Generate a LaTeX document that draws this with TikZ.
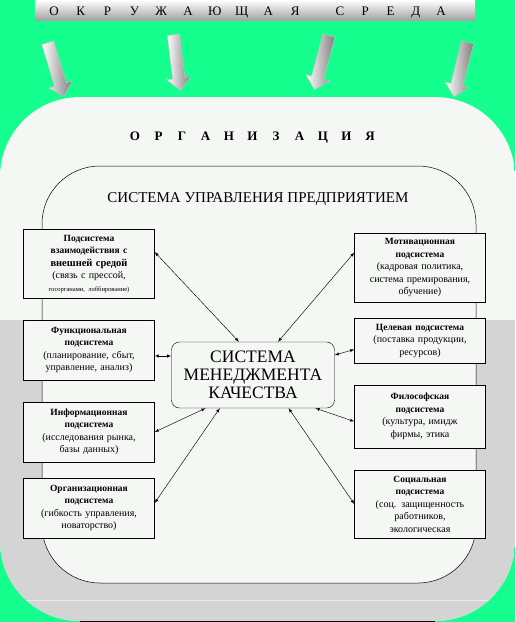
\documentclass[tikz,border=0pt]{standalone}
\usepackage{fontspec}
\setmainfont{Liberation Serif}
\usetikzlibrary{shapes,
                arrows,
                positioning}
\definecolor{envgreen}{RGB}{20,255,142}
\definecolor{paper}{RGB}{245,247,245}
\definecolor{orggray}{RGB}{212,212,212}
\tikzset{block/.style=
   {rectangle,
    draw,
    fill=paper,
    text centered,
    align=center,
    inner sep=2pt,
    text width=127pt,
    font=\fontsize{10}{12.5}\selectfont}}
\tikzset{link/.style = {draw, latex-latex, line width=0.45pt}}
\tikzset{letter/.style = {anchor=base, inner sep=0pt}}
\tikzset{envarrow/.style=
   {single arrow,
    draw=gray!45,
    left color=white,
    right color=gray!100,
    minimum height=56pt,
    inner sep=6pt,
    single arrow head extend=6pt}}
\newcommand{\hdr}[1]{{\bfseries\fontsize{9.5}{12.5}\selectfont #1}}

\begin{document}
\begin{tikzpicture}[x=1pt,y=-1pt]
    \useasboundingbox (0,0) rectangle (515,622);
    \fill[envgreen] (0,0) rectangle (515,622);

    % Organisation
    \begin{scope}
        \clip[rounded corners=80pt] (0,97) rectangle (515,621);
        \fill[paper] (0,97) rectangle (515,621);
        \fill[orggray] (0,320) rectangle (515,621);
        \draw[white!85!gray, line width=0.6pt] (0,600) -- (515,600);
    \end{scope}
    \draw (80,621) -- (435,621);

    % Environment
    \node[rectangle, minimum width=440pt, minimum height=20pt, inner sep=0pt,
          top color=white, bottom color=gray!72] (env) at (255,10) {};
    \foreach \ch [count=\i] in {О,К,Р,У,Ж,А,Ю,Щ,А,Я}
        \node[letter, font=\fontsize{13}{13}\selectfont] (envA\i) at ({54+(\i-1)*26.8},15.5) {\ch};
    \foreach \ch [count=\i] in {С,Р,Е,Д,А}
        \node[letter, font=\fontsize{13}{13}\selectfont] (envB\i) at ({340+(\i-1)*25.25},15.5) {\ch};

    \node[envarrow, rotate=-73] (arr1) at (55,66.5) {};
    \node[envarrow, rotate=-83] (arr2) at (176.5,59.5) {};
    \node[envarrow, rotate=-105] (arr3) at (322.5,59.5) {};
    \node[envarrow, rotate=-104] (arr4) at (461.5,66.5) {};

    \foreach \ch [count=\i] in {О,Р,Г,А,Н,И,З,А,Ц,И,Я}
        \node[letter, font=\bfseries\fontsize{13}{13}\selectfont] (org\i) at ({135+(\i-1)*23.5},140) {\ch};

    % Enterprise
    \draw[fill=paper, rounded corners=58pt, line width=0.5pt] (42,166) rectangle (476,583);
    \node[font=\fontsize{15}{16}\selectfont] (title) at (258,199)
        {СИСТЕМА УПРАВЛЕНИЯ ПРЕДПРИЯТИЕМ};

    % Blocks
    \node [block, rounded corners=8pt, text width=159pt, minimum height=66pt,
           font=\fontsize{17.5}{18}\selectfont] (qms) at (253,375)
        {СИСТЕМА\\ МЕНЕДЖМЕНТА\\ КАЧЕСТВА};

    \node [block, minimum height=69pt] (l1) at (89,264)
        {\hdr{Подсистема}\\ \hdr{взаимодействия с}\\
         {\bfseries\fontsize{10.5}{12}\selectfont внешней средой}\\ (связь с прессой,\\
         {\fontsize{6.5}{8}\selectfont госорганами, лоббирование)}};
    \node [block, minimum height=60pt] (l2) at (89,350)
        {\hdr{Функциональная}\\ \hdr{подсистема}\\ (планирование, сбыт,\\ управление, анализ)};
    \node [block, minimum height=60pt] (l3) at (89,432)
        {\hdr{Информационная}\\ \hdr{подсистема}\\ (исследования рынка,\\ базы данных)};
    \node [block, minimum height=60pt] (l4) at (89,508)
        {\hdr{Организационная}\\ \hdr{подсистема}\\ (гибкость управления,\\ новаторство)};

    \node [block, minimum height=69pt] (r1) at (420,267.5)
        {\hdr{Мотивационная}\\ \hdr{подсистема}\\ (кадровая политика,\\ система премирования,\\ обучение)};
    \node [block, minimum height=45pt] (r2) at (420,340.5)
        {\hdr{Целевая подсистема}\\ (поставка продукции,\\ ресурсов)};
    \node [block, minimum height=63pt] (r3) at (420,416.5)
        {\hdr{Философская}\\ \hdr{подсистема}\\ (культура, имидж\\ фирмы, этика};
    \node [block, minimum height=68pt] (r4) at (420,504)
        {\hdr{Социальная}\\ \hdr{подсистема}\\ (соц. защищенность\\ работников,\\ экологическая};

    % Draw edges
    \path [link] ([yshift=12pt]l1.east) -- (qms.113);
    \path [link] ([yshift=-6pt]l2.east) -- ([yshift=-6pt]l2.east -| qms.west);
    \path [link] (l3.east) -- (qms.-145);
    \path [link] ([yshift=5pt]l4.east) -- (qms.-135);

    \path [link] ([yshift=15pt]r1.west) -- (qms.53);
    \path [link] ([yshift=-9pt]r2.west) -- ([yshift=20pt]qms.east);
    \path [link] ([yshift=-5pt]r3.west) -- (qms.-28);
    \path [link] (r4.west) -- (qms.-43);

\end{tikzpicture}
\end{document}
